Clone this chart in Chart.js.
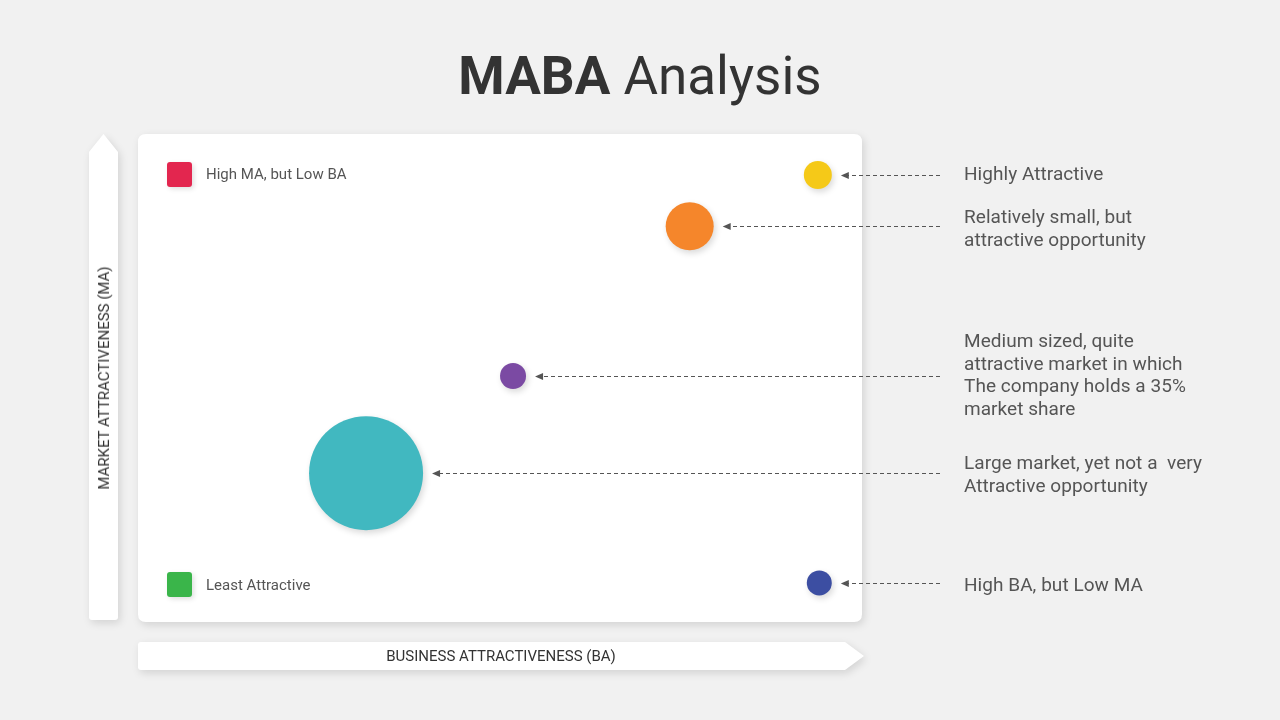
<!DOCTYPE html>
<html>
<head>
<meta charset="utf-8">
<script src="https://cdn.jsdelivr.net/npm/chart.js@4/dist/chart.umd.min.js"></script>
<style>
  html, body { margin: 0; padding: 0; background: #f1f1f1; }
  body { width: 1280px; height: 720px; position: relative; overflow: hidden; font-family: Roboto, "Noto Sans", sans-serif; color: #555; }
  #chart { position: absolute; left: 0; top: 0; }
  .title { position: absolute; left: 0; width: 1280px; top: 45px; text-align: center; font-size: 53px; color: #333; }
  .title b { font-weight: 700; }
  .note { position: absolute; left: 964px; font-size: 19px; letter-spacing: 0.05px; line-height: 22.5px; color: #555; white-space: pre; }
  .legend { position: absolute; left: 206px; font-size: 15px; color: #555; transform: translateY(-50%); }
  .axis-y { position: absolute; left: 104px; top: 378px; font-size: 15px; color: #333; white-space: nowrap; transform: translate(-50%, -50%) rotate(-90deg); }
  .axis-x { position: absolute; left: 501px; top: 656px; font-size: 15px; color: #333; white-space: nowrap; transform: translate(-50%, -50%); }
</style>
</head>
<body>
<canvas id="chart" width="1280" height="720"></canvas>
<div class="title"><b>MABA</b> Analysis</div>
<div class="legend" style="top:174px">High MA, but Low BA</div>
<div class="legend" style="top:585px">Least Attractive</div>
<div class="axis-y">MARKET ATTRACTIVENESS (MA)</div>
<div class="axis-x">BUSINESS ATTRACTIVENESS (BA)</div>
<div id="notes"></div>
<script>
// Bubble data (BA on x, MA on y, radius in px)
const labels = [
  "Highly Attractive",
  "Relatively small, but\nattractive opportunity",
  "Medium sized, quite\nattractive market in which\nThe company holds a 35%\nmarket share",
  "Large market, yet not a  very\nAttractive opportunity",
  "High BA, but Low MA"
];
const baValues = [93.9, 76.2, 51.8, 31.5, 94.1];
const maValues = [91.6, 81.1, 50.4, 30.5, 8.0];
const sizes = [14, 24, 13, 57, 12.5];
const colors = ["#f5c918", "#f5862b", "#7b4aa3", "#41b8c0", "#3c4ea2"];
const noteTops = [163, 206, 330, 452, 574];

function roundRect(ctx, x, y, w, h, r) {
  ctx.beginPath();
  ctx.moveTo(x + r, y);
  ctx.lineTo(x + w - r, y);
  ctx.quadraticCurveTo(x + w, y, x + w, y + r);
  ctx.lineTo(x + w, y + h - r);
  ctx.quadraticCurveTo(x + w, y + h, x + w - r, y + h);
  ctx.lineTo(x + r, y + h);
  ctx.quadraticCurveTo(x, y + h, x, y + h - r);
  ctx.lineTo(x, y + r);
  ctx.quadraticCurveTo(x, y, x + r, y);
  ctx.closePath();
}

const backdrop = {
  id: "backdrop",
  beforeDraw(chart) {
    const { ctx, chartArea } = chart;
    ctx.save();
    ctx.shadowColor = "rgba(0,0,0,0.13)";
    ctx.shadowBlur = 8;
    ctx.shadowOffsetX = 2;
    ctx.shadowOffsetY = 3;
    ctx.fillStyle = "#ffffff";
    // card
    roundRect(ctx, chartArea.left, chartArea.top, chartArea.right - chartArea.left, chartArea.bottom - chartArea.top, 8);
    ctx.fill();
    // vertical arrow (MA)
    ctx.beginPath();
    ctx.moveTo(89, 152);
    ctx.lineTo(103.5, 134);
    ctx.lineTo(118, 152);
    ctx.lineTo(118, 617);
    ctx.quadraticCurveTo(118, 620, 115, 620);
    ctx.lineTo(92, 620);
    ctx.quadraticCurveTo(89, 620, 89, 617);
    ctx.closePath();
    ctx.fill();
    // horizontal arrow (BA)
    ctx.beginPath();
    ctx.moveTo(141, 642);
    ctx.lineTo(845, 642);
    ctx.lineTo(864, 656);
    ctx.lineTo(845, 670);
    ctx.lineTo(141, 670);
    ctx.quadraticCurveTo(138, 670, 138, 667);
    ctx.lineTo(138, 645);
    ctx.quadraticCurveTo(138, 642, 141, 642);
    ctx.closePath();
    ctx.fill();
    // legend squares
    ctx.shadowBlur = 5;
    ctx.shadowOffsetY = 2;
    ctx.fillStyle = "#e3264f";
    roundRect(ctx, 167, 162, 25, 25, 3);
    ctx.fill();
    ctx.fillStyle = "#3ab54a";
    roundRect(ctx, 167, 572, 25, 25, 3);
    ctx.fill();
    ctx.restore();
  },
  beforeDatasetsDraw(chart) {
    const ctx = chart.ctx;
    ctx.save();
    ctx.shadowColor = "rgba(0,0,0,0.15)";
    ctx.shadowBlur = 6;
    ctx.shadowOffsetX = 2;
    ctx.shadowOffsetY = 3;
  },
  afterDatasetsDraw(chart) {
    const ctx = chart.ctx;
    ctx.restore();
    // dashed pointers from notes to bubbles
    const meta = chart.getDatasetMeta(0);
    ctx.save();
    ctx.strokeStyle = "#555";
    ctx.fillStyle = "#555";
    ctx.lineWidth = 1;
    ctx.setLineDash([4, 3]);
    meta.data.forEach((pt, i) => {
      const tip = pt.x + sizes[i] + 9;
      const y = Math.round(pt.y) + 0.5;
      ctx.beginPath();
      ctx.moveTo(940, y);
      ctx.lineTo(tip + 6, y);
      ctx.stroke();
      ctx.beginPath();
      ctx.moveTo(tip, y);
      ctx.lineTo(tip + 8, y - 3.5);
      ctx.lineTo(tip + 8, y + 3.5);
      ctx.closePath();
      ctx.fill();
    });
    ctx.restore();
  }
};

const notesEl = document.getElementById("notes");
labels.forEach((txt, i) => {
  const d = document.createElement("div");
  d.className = "note";
  d.style.top = noteTops[i] + "px";
  d.textContent = txt;
  notesEl.appendChild(d);
});

const ctx = document.getElementById("chart").getContext("2d");
new Chart(ctx, {
  type: "bubble",
  data: {
    datasets: [{
      data: baValues.map((x, i) => ({ x, y: maValues[i], r: sizes[i] })),
      backgroundColor: colors,
      borderWidth: 0,
      clip: false
    }]
  },
  options: {
    responsive: false,
    animation: false,
    layout: { padding: { left: 138, top: 134, right: 418, bottom: 98 } },
    scales: {
      x: { display: false, min: 0, max: 100 },
      y: { display: false, min: 0, max: 100 }
    },
    plugins: { legend: { display: false }, tooltip: { enabled: false } }
  },
  plugins: [backdrop]
});
</script>
</body>
</html>
